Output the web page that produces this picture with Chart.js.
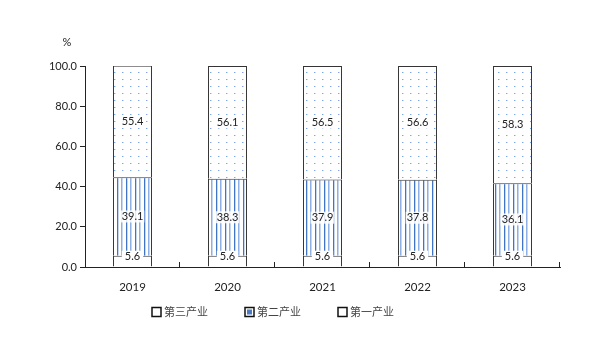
<!DOCTYPE html>
<html><head><meta charset="utf-8">
<script src="https://cdn.jsdelivr.net/npm/chart.js@4/dist/chart.umd.min.js"></script>
<style>html,body{margin:0;padding:0;background:#fff}#wrap{width:600px;height:348px}</style>
</head><body><div id="wrap"><canvas id="c" width="600" height="348"></canvas></div>
<script>
const categories = ['2019','2020','2021','2022','2023'];
const primary = [5.6,5.6,5.6,5.6,5.6];
const secondary = [39.1,38.3,37.9,37.8,36.1];
const tertiary = [55.4,56.1,56.5,56.6,58.3];
const yTicks = [0,20,40,60,80,100];
const seriesNames = ['第一产业','第二产业','第三产业'];

const FONT = 'Lato, "Noto Sans CJK SC", sans-serif';

function stripePattern(){
  const c=document.createElement('canvas');c.width=9;c.height=4;
  const g=c.getContext('2d');g.fillStyle='#fff';g.fillRect(0,0,9,4);
  g.fillStyle='#3f74c6';g.fillRect(0,0,1,4);
  g.fillStyle='#8fb0e4';g.fillRect(4,0,1,4);
  g.fillStyle='#c6d6f1';g.fillRect(1,0,1,4);g.fillRect(5,0,1,4);
  return g.createPattern(c,'repeat');
}
function dotPattern(){
  const c=document.createElement('canvas');c.width=8;c.height=7;
  const g=c.getContext('2d');g.fillStyle='#fff';g.fillRect(0,0,8,7);
  g.fillStyle='#7fa6e2';g.fillRect(2,2,1,1);
  g.fillStyle='#c9d9f3';g.fillRect(3,2,1,1);
  return g.createPattern(c,'repeat');
}

const labelPlugin = {
  id:'labels',
  afterDatasetsDraw(chart){
    const ctx=chart.ctx;
    ctx.save();
    ctx.font='11px '+FONT;ctx.textAlign='center';ctx.textBaseline='middle';
    chart.data.datasets.forEach((ds,di)=>{
      const meta=chart.getDatasetMeta(di);
      meta.data.forEach((bar,i)=>{
        const v=ds.data[i];
        const txt=v.toFixed(1);
        let y;
        if(di===0){
          y=bar.y+1;
          const w=ctx.measureText(txt).width+6;
          ctx.fillStyle='#fff';ctx.fillRect(bar.x-w/2,y-6,w,12);
        } else {
          y=(bar.y+bar.base)/2;
          const w=ctx.measureText(txt).width+2;
          ctx.fillStyle='rgba(255,255,255,0.85)';ctx.fillRect(bar.x-w/2,y-6,w,12);
        }
        ctx.fillStyle='#222';ctx.fillText(txt,bar.x,y);
      });
    });
    // x-axis inward ticks at category boundaries
    const xs=chart.scales.x, a=chart.chartArea;
    ctx.strokeStyle='#222';ctx.lineWidth=1;
    ctx.beginPath();
    for(let i=1;i<=categories.length;i++){
      const x=Math.round(xs.left+(xs.right-xs.left)*i/categories.length)-0.5;
      ctx.moveTo(x,a.bottom);ctx.lineTo(x,a.bottom-5);
    }
    ctx.stroke();
    // unit
    ctx.fillStyle='#222';ctx.font='11px '+FONT;ctx.textAlign='center';
    ctx.fillText('%',67,42);
    // legend
    const items=[{n:seriesNames[2],f:'#fff',x:152},{n:seriesNames[1],f:'#4a7cc4',x:245},{n:seriesNames[0],f:'#fff',x:338}];
    const ly=312;
    items.forEach(it=>{
      ctx.fillStyle='#fff';ctx.fillRect(it.x,ly-4.5,9,9);
      if(it.f!=='#fff'){ctx.fillStyle=it.f;ctx.fillRect(it.x+2,ly-2.5,5,5);}
      ctx.strokeStyle='#111';ctx.lineWidth=1.5;ctx.strokeRect(it.x,ly-4.5,9,9);
      ctx.fillStyle='#444';ctx.textAlign='left';ctx.font='11px '+FONT;
      ctx.fillText(it.n,it.x+12,ly+0.5);
    });
    ctx.restore();
  }
};

new Chart(document.getElementById('c'),{
  type:'bar',
  data:{labels:categories,datasets:[
    {label:seriesNames[0],data:primary,backgroundColor:'#fff',borderColor:'#333',borderWidth:1},
    {label:seriesNames[1],data:secondary,backgroundColor:stripePattern(),borderColor:'#333',borderWidth:1},
    {label:seriesNames[2],data:tertiary,backgroundColor:dotPattern(),borderColor:'#333',borderWidth:1}
  ]},
  options:{
    responsive:false,animation:false,
    layout:{padding:{top:66,right:40,left:0,bottom:0}},
    plugins:{legend:{display:false},tooltip:{enabled:false}},
    datasets:{bar:{barPercentage:0.82,categoryPercentage:0.5}},
    scales:{
      x:{stacked:true,
        grid:{display:false,drawTicks:false},
        border:{display:true,color:'#222',width:1},
        ticks:{padding:13,color:'#222',font:{family:FONT,size:11.5}},
        afterFit(s){s.height=81;}
      },
      y:{stacked:true,min:0,max:100,
        afterBuildTicks(s){s.ticks=yTicks.map(v=>({value:v}));},
        grid:{drawOnChartArea:false,drawTicks:true,tickLength:5,color:'#222'},
        border:{display:true,color:'#222',width:1},
        ticks:{padding:3,color:'#222',font:{family:FONT,size:11},callback:v=>v.toFixed(1)},
        afterFit(s){s.width=85;}
      }
    }
  },
  plugins:[labelPlugin]
});
</script></body></html>
